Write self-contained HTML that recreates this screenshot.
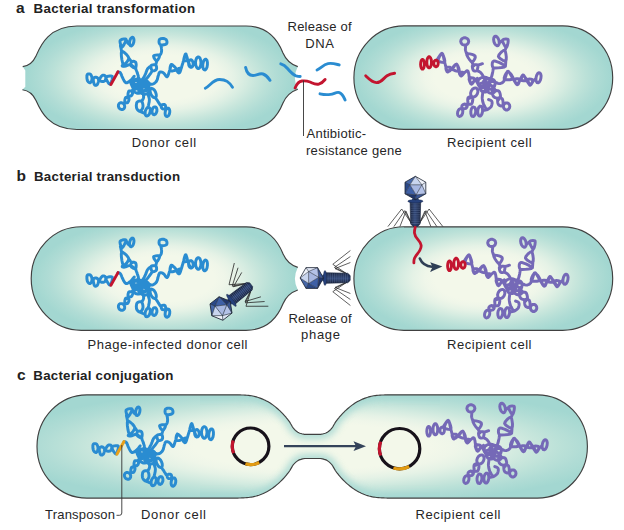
<!DOCTYPE html>
<html><head><meta charset="utf-8">
<style>
html,body{margin:0;padding:0;background:#fff;}
svg{display:block;position:absolute;top:0;left:0;}
text{font-family:"Liberation Sans",sans-serif;fill:#222;}
.t{font-weight:bold;font-size:13.3px;}
.tl{font-weight:bold;font-size:15.5px;}
.l{font-size:13px;fill:#262626;}
</style></head><body>
<svg width="624" height="530" viewBox="0 0 624 530">
<defs>
<radialGradient id="g0" gradientUnits="userSpaceOnUse" cx="0" cy="0" r="1"><stop offset="0" stop-color="#f3f8ea"/><stop offset="0.38" stop-color="#f3f8ea"/><stop offset="0.46" stop-color="#eff6e9"/><stop offset="0.55" stop-color="#e5f2e6"/><stop offset="0.64" stop-color="#d6ece1"/><stop offset="0.72" stop-color="#c8e6dc"/><stop offset="0.8" stop-color="#bbe1d8"/><stop offset="0.88" stop-color="#b0dcd5"/><stop offset="0.96" stop-color="#a7d9d2"/><stop offset="1.0" stop-color="#a3d7d1"/></radialGradient><radialGradient id="gA1" href="#g0" gradientTransform="translate(160 77.65) scale(134 60)"/><radialGradient id="gA2" href="#g0" gradientTransform="translate(483.3 77.65) scale(128 60)"/><radialGradient id="gB1" href="#g0" gradientTransform="translate(164.5 278.55) scale(131 60)"/><radialGradient id="gB2" href="#g0" gradientTransform="translate(483.3 278.55) scale(128 60)"/><radialGradient id="gC" href="#g0" gradientTransform="translate(312.6 446.45) scale(310 60)"/>
<filter id="bl2" filterUnits="userSpaceOnUse" x="200" y="380" width="240" height="140"><feGaussianBlur stdDeviation="3.5"/></filter>
<filter id="bl" filterUnits="userSpaceOnUse" x="-60" y="-60" width="760" height="660"><feGaussianBlur stdDeviation="15"/></filter>
<path id="cA1" d="M77 26L246 26C266 26 277 38 283 53C286 60 291 64.5 297.8 66.6Q292 78 297.8 89.2C291 91.5 286 96 283 103C277 118 266 129.5 246 129.5L77 129.5C48 129.5 40 109.5 36 100.5C33 94 28 90.5 22.4 89.8L25.3 86.7L25.3 70.4L22.7 66.6C28 66 33 62.5 36 56C40 47 48 26 77 26Z"/><path id="lA1" d="M22.7 66.6C28 66 33 62.5 36 56C40 47 48 26 77 26L246 26C266 26 277 38 283 53C286 60 291 64.5 297.8 66.6M297.8 89.2C291 91.5 286 96 283 103C277 118 266 129.5 246 129.5L77 129.5C48 129.5 40 109.5 36 100.5C33 94 28 90.5 22.4 89.8"/>
<path id="cA2" d="M403.9 25.9L562.7 25.9C590.3 25.9 612.7 49.07 612.7 77.65C612.7 106.23 590.3 129.4 562.7 129.4L403.9 129.4C376.3 129.4 353.9 106.23 353.9 77.65C353.9 49.07 376.3 25.9 403.9 25.9Z"/>
<path id="cB1" d="M81.2 226.8L246 226.8C266 226.8 277 238.8 283 253.8C286 260.8 291 265.3 297.8 267.4Q292 278.8 297.8 290C291 292.3 286 296.8 283 303.8C277 318.8 266 330.3 246 330.3L81.2 330.3C53.6 330.3 31.2 307.13 31.2 278.55C31.2 249.97 53.6 226.8 81.2 226.8Z"/><path id="lB1" d="M297.8 290C291 292.3 286 296.8 283 303.8C277 318.8 266 330.3 246 330.3L81.2 330.3C53.6 330.3 31.2 307.13 31.2 278.55C31.2 249.97 53.6 226.8 81.2 226.8L246 226.8C266 226.8 277 238.8 283 253.8C286 260.8 291 265.3 297.8 267.4"/>
<path id="cB2" d="M403.9 226.8L562.7 226.8C590.3 226.8 612.7 249.97 612.7 278.55C612.7 307.13 590.3 330.3 562.7 330.3L403.9 330.3C376.3 330.3 353.9 307.13 353.9 278.55C353.9 249.97 376.3 226.8 403.9 226.8Z"/>
<path id="cC" d="M87.0 394.8L238.0 394.8L238.9 394.9L240.2 394.9L241.7 395.0L243.4 395.0L245.1 395.1L246.9 395.3L248.5 395.4L250.0 395.6L251.4 395.8L252.7 396.0L253.9 396.3L255.2 396.6L256.4 396.9L257.6 397.3L258.9 397.7L260.1 398.1L261.4 398.6L262.6 399.1L263.9 399.7L265.2 400.3L266.4 400.9L267.7 401.6L268.9 402.3L270.2 403.1L271.5 404.0L272.8 404.9L274.1 405.9L275.4 406.9L276.7 408.0L277.9 409.0L279.1 410.1L280.3 411.2L281.4 412.3L282.5 413.4L283.6 414.6L284.7 415.8L285.7 416.9L286.6 418.1L287.5 419.2L288.4 420.3L289.2 421.4L289.9 422.4L290.5 423.5L291.1 424.5L291.7 425.5L292.2 426.5L292.8 427.4L293.4 428.2L294.0 428.9L294.6 429.6L295.3 430.2L295.9 430.8L296.5 431.3L297.2 431.8L297.8 432.2L298.5 432.6L299.2 433.0L300.1 433.3L300.9 433.5L301.8 433.8L302.6 434.0L303.4 434.1L304.0 434.3L304.5 434.4L320.7 434.4L321.2 434.3L321.8 434.1L322.6 434.0L323.4 433.8L324.3 433.5L325.1 433.3L326.0 433.0L326.7 432.6L327.4 432.2L328.0 431.8L328.7 431.3L329.3 430.8L329.9 430.2L330.6 429.6L331.2 428.9L331.8 428.2L332.4 427.4L333.0 426.5L333.5 425.5L334.1 424.5L334.7 423.5L335.3 422.4L336.0 421.4L336.8 420.3L337.7 419.2L338.6 418.1L339.5 416.9L340.5 415.8L341.6 414.6L342.7 413.4L343.8 412.3L344.9 411.2L346.1 410.1L347.3 409.0L348.5 408.0L349.8 406.9L351.1 405.9L352.4 404.9L353.7 404.0L355.0 403.1L356.3 402.3L357.5 401.6L358.8 400.9L360.1 400.3L361.3 399.7L362.6 399.1L363.8 398.6L365.1 398.1L366.3 397.7L367.6 397.3L368.8 396.9L370.0 396.6L371.3 396.3L372.5 396.0L373.8 395.8L375.2 395.6L376.7 395.4L378.3 395.3L380.1 395.1L381.8 395.0L383.5 395.0L385.0 394.9L386.3 394.9L387.2 394.8L537.4 394.8C565.0 394.8 587.4 417.9 587.4 446.45C587.4 475.0 565.0 498.1 537.4 498.1L387.2 498.1L386.3 498.0L385.0 498.0L383.5 497.9L381.8 497.9L380.1 497.8L378.3 497.6L376.7 497.5L375.2 497.3L373.8 497.1L372.5 496.9L371.3 496.6L370.0 496.3L368.8 496.0L367.6 495.6L366.3 495.2L365.1 494.8L363.8 494.3L362.6 493.8L361.3 493.2L360.1 492.6L358.8 492.0L357.5 491.3L356.3 490.6L355.0 489.8L353.7 488.9L352.4 488.0L351.1 487.0L349.8 486.0L348.5 484.9L347.3 483.9L346.1 482.8L344.9 481.7L343.8 480.6L342.7 479.5L341.6 478.3L340.5 477.1L339.5 476.0L338.6 474.8L337.7 473.7L336.8 472.6L336.0 471.5L335.3 470.5L334.7 469.4L334.1 468.4L333.5 467.4L333.0 466.4L332.4 465.5L331.8 464.7L331.2 464.0L330.6 463.3L329.9 462.7L329.3 462.1L328.7 461.6L328.0 461.1L327.4 460.7L326.7 460.3L326.0 459.9L325.1 459.6L324.3 459.4L323.4 459.1L322.6 458.9L321.8 458.8L321.2 458.6L320.7 458.5L304.5 458.5L304.0 458.6L303.4 458.8L302.6 458.9L301.8 459.1L300.9 459.4L300.1 459.6L299.2 459.9L298.5 460.3L297.8 460.7L297.2 461.1L296.5 461.6L295.9 462.1L295.3 462.7L294.6 463.3L294.0 464.0L293.4 464.7L292.8 465.5L292.2 466.4L291.7 467.4L291.1 468.4L290.5 469.4L289.9 470.5L289.2 471.5L288.4 472.6L287.5 473.7L286.6 474.8L285.7 476.0L284.7 477.1L283.6 478.3L282.5 479.5L281.4 480.6L280.3 481.7L279.1 482.8L277.9 483.9L276.7 484.9L275.4 486.0L274.1 487.0L272.8 488.0L271.5 488.9L270.2 489.8L268.9 490.6L267.7 491.3L266.4 492.0L265.2 492.6L263.9 493.2L262.6 493.8L261.4 494.3L260.1 494.8L258.9 495.2L257.6 495.6L256.4 496.0L255.2 496.3L253.9 496.6L252.7 496.9L251.4 497.1L250.0 497.3L248.5 497.5L246.9 497.6L245.1 497.8L243.4 497.9L241.7 497.9L240.2 498.0L238.9 498.0L238.0 498.1L87.0 498.1C59.4 498.1 37.0 475.0 37.0 446.45C37.0 417.9 59.4 394.8 87.0 394.8Z"/>
<linearGradient id="tg" x1="0" x2="1" y1="0" y2="0"><stop offset="0" stop-color="#131c33"/><stop offset="0.45" stop-color="#2c4273"/><stop offset="1" stop-color="#16203a"/></linearGradient><g id="phage"><path d="M4.2 35.0L13.7 21.0L27.5 38.6M4.2 35.0L10.6 22.6L21.5 38.6M4.2 35.0L9.4 23.2L15.5 38.6M-4.2 35.0L-13.7 21.0L-27.5 38.6M-4.2 35.0L-10.6 22.6L-21.5 38.6M-4.2 35.0L-9.4 23.2L-15.5 38.6" fill="none" stroke="#2b2b2b" stroke-width="0.75" stroke-linejoin="miter"/><path d="M-5.3 13.6L5.3 13.6L4.7 36L2.4 38.4L-2.4 38.4L-4.7 36Z" fill="url(#tg)"/><path d="M-5.2 15.2L5.2 15.2M-5.2 17.1L5.2 17.1M-5.2 18.9L5.2 18.9M-5.2 20.8L5.2 20.8M-5.2 22.6L5.2 22.6M-5.2 24.4L5.2 24.4M-5.2 26.3L5.2 26.3M-5.2 28.1L5.2 28.1M-5.2 30.0L5.2 30.0M-5.2 31.9L5.2 31.9M-5.2 33.7L5.2 33.7M-5.2 35.5L5.2 35.5" stroke="#7f94bd" stroke-width="0.55" opacity="0.6"/><path d="M-5.3 13.6L5.3 13.6L4.7 36L2.4 38.4L-2.4 38.4L-4.7 36Z" fill="none" stroke="#18233d" stroke-width="0.6"/><path d="M-3.2 10.5L3.2 10.5L3.6 13L-3.6 13Z" fill="#2c4a86"/><ellipse cx="0" cy="13.2" rx="7.6" ry="1.7" fill="#26417c" stroke="#18233d" stroke-width="0.4"/><polygon points="0,-11.7 -10.4,-5.8 -5.5,-3.2" fill="#4768aa"/><polygon points="0,-11.7 -5.5,-3.2 6.5,-3.2" fill="#c9d5ee"/><polygon points="0,-11.7 6.5,-3.2 10.4,-5.8" fill="#f0f3fa"/><polygon points="-10.4,-5.8 -10.4,5.8 -5.5,-3.2" fill="#2a4888"/><polygon points="-10.4,5.8 0.7,6.9 -5.5,-3.2" fill="#3f60a6"/><polygon points="-5.5,-3.2 6.5,-3.2 0.7,6.9" fill="#a7b7e1"/><polygon points="10.4,-5.8 10.4,5.8 6.5,-3.2" fill="#e0e7f5"/><polygon points="10.4,5.8 0.7,6.9 6.5,-3.2" fill="#b4c2e7"/><polygon points="-10.4,5.8 0,11.7 0.7,6.9" fill="#21366b"/><polygon points="0,11.7 10.4,5.8 0.7,6.9" fill="#3b5797"/><path d="M0 -11.7L-5.5 -3.2M0 -11.7L6.5 -3.2M-10.4 -5.8L-5.5 -3.2M-10.4 5.8L-5.5 -3.2M-10.4 5.8L0.7 6.9M0 11.7L0.7 6.9M10.4 5.8L0.7 6.9M10.4 5.8L6.5 -3.2M10.4 -5.8L6.5 -3.2M-5.5 -3.2L6.5 -3.2M6.5 -3.2L0.7 6.9M0.7 6.9L-5.5 -3.2" stroke="#1d2433" stroke-width="0.55" fill="none"/><polygon points="0,-11.7 10.4,-5.8 10.4,5.8 0,11.7 -10.4,5.8 -10.4,-5.8" fill="none" stroke="#1d2433" stroke-width="0.8" stroke-linejoin="round"/></g>
<clipPath id="kA1"><use href="#cA1"/></clipPath>
<clipPath id="kA2"><use href="#cA2"/></clipPath>
<clipPath id="kB1"><use href="#cB1"/></clipPath>
<clipPath id="kB2"><use href="#cB2"/></clipPath>
<clipPath id="kC"><use href="#cC"/></clipPath>
</defs>
<rect width="624" height="530" fill="#fff"/>

<!-- cells -->
<g id="cells">
<use href="#cA1" fill="url(#gA1)"/><use href="#lA1" fill="none" stroke="#404040" stroke-width="1.15"/>
<use href="#cA2" fill="url(#gA2)"/><use href="#cA2" fill="none" stroke="#404040" stroke-width="1.15"/>
<use href="#cB1" fill="url(#gB1)"/><use href="#lB1" fill="none" stroke="#404040" stroke-width="1.15"/>
<use href="#cB2" fill="url(#gB2)"/><use href="#cB2" fill="none" stroke="#404040" stroke-width="1.15"/>
<use href="#cC" fill="url(#gC)"/><g clip-path="url(#kC)"><use href="#cC" fill="none" stroke="#a3d7d1" stroke-width="9" filter="url(#bl2)" opacity="0.85"/></g><use href="#cC" fill="none" stroke="#404040" stroke-width="1.15"/>
</g>

<!-- chromosomes -->
<path id="dch" d="M87.2 74.7L86.9 75.5L86.9 76.7L86.9 78.1L87.1 79.4L87.4 80.5L87.8 81.2L88.3 81.9L89.0 82.5L89.6 82.8L90.1 82.8L90.6 82.4L91.1 81.7L91.5 80.8L91.9 79.8L92.0 78.9L92.0 77.9L91.8 76.9L91.4 75.8L91.0 74.9L90.5 74.3L89.9 74.0L89.2 73.9L88.4 73.9L87.6 74.2Z M93.3 78.9L93.3 79.9L93.4 81.3L93.8 82.8L94.1 84.0L94.6 84.9L95.0 85.3L95.6 85.4L96.2 85.3L96.8 84.9L97.3 84.5L97.7 83.8L98.1 82.7L98.4 81.6L98.6 80.5L98.6 79.6L98.3 78.9L97.8 78.2L97.2 77.7L96.6 77.3L96.0 77.1L95.4 77.1L94.8 77.3L94.1 77.6L93.6 78.2Z M99.6 79.6L99.8 78.8L100.3 77.9L101.0 76.8L101.7 76.0L102.4 75.4L103.0 75.2L103.8 75.2L104.5 75.4L105.1 75.8L105.5 76.2L105.7 76.9L105.8 77.8L105.7 78.8L105.4 79.8L105.1 80.5L104.6 80.9L104.0 81.3L103.3 81.5L102.6 81.5L102.0 81.5L101.4 81.4L100.7 81.1L100.2 80.7L99.8 80.2Z M106.0 77.5L106.1 78.7L106.9 80.5L108.0 82.3L109.1 83.8L110.0 84.3L110.7 83.5L111.4 81.8L112.1 79.6L112.4 77.7L112.3 76.4L111.4 76.0L109.9 76.0L108.2 76.2L106.7 76.8Z M118.0 72.0L118.3 72.1L118.8 72.1L119.3 72.1L119.9 72.4L120.4 72.9L120.9 73.7L121.4 74.8L121.8 76.0L122.3 77.2L122.9 78.4L123.4 79.4L124.0 80.5L124.6 81.5L125.3 82.3L126.0 82.8L126.8 82.8L127.7 82.4L128.7 81.9L129.6 81.2L130.5 80.5L131.3 79.7L132.2 78.7L133.0 77.7L133.7 76.8L134.2 76.2 M121.6 51.4L122.7 51.5L124.4 52.6L126.4 54.3L128.0 56.3L128.8 57.9L128.4 59.5L127.3 61.4L125.8 63.2L124.3 64.4L123.3 64.4L122.6 62.8L121.9 59.7L121.4 56.2L121.3 53.1Z M123.3 64.4L123.1 64.6L122.8 64.9L122.4 65.3L122.2 65.6L122.2 65.9L122.4 66.1L122.8 66.2L123.3 66.3L123.9 66.4L124.7 66.3L125.6 66.1L126.8 65.6L128.0 65.1L129.3 64.8L130.5 64.8L131.6 65.3L132.9 66.2L134.0 67.3L135.0 68.2L135.7 68.8 M128.8 57.9L129.2 58.5L129.9 59.5L130.6 60.5L131.3 61.4L131.7 62.1 M131.7 61.7L132.4 61.4L133.3 61.3L134.3 61.5L135.2 61.8L135.7 62.3L136.0 63.2L136.2 64.6L136.1 66.1L135.9 67.3L135.5 68.0L134.8 68.1L133.8 67.7L132.7 67.1L131.7 66.4L131.1 65.7L130.8 64.9L130.8 64.0L131.0 63.0L131.3 62.2Z M135.5 68.0L135.8 68.7L136.1 69.7L136.5 70.8L137.0 72.0L137.3 73.1L137.7 74.2L138.1 75.4L138.4 76.6L138.7 77.6L138.9 78.4 M121.6 51.4L121.4 50.6L121.2 49.3L120.9 47.9L120.6 46.7L120.4 45.8 M120.1 40.5L120.9 39.8L122.4 39.2L124.0 38.9L125.3 38.9L126.0 39.3L125.9 40.5L125.1 42.4L124.1 44.4L123.0 46.1L122.2 46.9L121.6 46.4L120.9 45.1L120.3 43.4L120.0 41.7Z M126.0 39.5L126.3 40.0L126.6 40.7L127.0 41.6L127.4 42.3L127.8 43.0L128.2 43.4L128.6 43.8L129.0 44.1L129.4 44.4L129.6 44.6 M133.8 42.0L133.2 43.9L132.3 45.3L131.3 45.9L130.4 45.7L129.7 44.7L129.5 43.1L129.7 41.2L130.3 39.3L131.2 37.9L132.2 37.3L133.1 37.5L133.7 38.5L134.0 40.1Z M159.5 39.5L160.0 39.1L160.6 38.8L161.4 38.6L162.2 38.4L162.9 38.4L163.6 38.5L164.4 38.7L165.1 39.0L165.8 39.3L166.3 39.8L166.6 40.5L166.9 41.3L167.0 42.2L166.9 43.1L166.6 43.7L165.9 44.2L164.9 44.6L163.8 44.8L162.7 45.0L161.8 45.0L161.1 44.9L160.5 44.6L160.0 44.3L159.6 43.8L159.3 43.3L159.1 42.6L159.0 41.8L159.1 40.9L159.2 40.1Z M160.8 45.0L160.9 45.7L161.1 46.6L161.4 47.7L161.5 48.9L161.6 49.8L161.6 50.7L161.5 51.5L161.4 52.2L161.2 52.9L161.0 53.5L160.7 54.0L160.4 54.5L160.0 54.8L159.7 55.1L159.5 55.3 M153.6 56.0L154.3 55.5L155.7 55.1L157.3 54.9L158.7 55.0L159.5 55.3L159.5 56.2L159.1 57.6L158.3 59.1L157.5 60.3L156.8 60.8L156.0 60.4L155.1 59.4L154.2 58.1L153.7 56.8Z M156.8 60.8L156.6 61.5L156.4 62.4L156.1 63.5L155.9 64.5L155.7 65.2 M151.1 65.7L151.7 65.2L152.7 64.9L153.9 64.8L154.9 64.9L155.7 65.2L156.2 65.7L156.5 66.6L156.6 67.7L156.6 68.6L156.3 69.4L155.8 69.9L154.9 70.4L154.0 70.8L153.0 70.9L152.3 70.7L151.8 70.1L151.3 69.0L151.0 67.7L150.9 66.5Z M151.1 65.7L150.6 66.1L149.9 66.6L149.1 67.2L148.3 68.0L147.6 68.8L147.0 69.9L146.5 71.2L146.0 72.6L145.5 73.9L144.9 75.2L144.3 76.4L143.6 77.6L142.8 78.8L142.2 79.8L141.8 80.5 M152.3 70.7L152.0 71.3L151.5 72.0L151.0 72.8L150.3 73.8L149.7 74.7L149.0 75.6L148.3 76.5L147.5 77.5L146.7 78.5L146.0 79.4L145.3 80.3L144.5 81.1L143.8 81.9L143.3 82.6L142.8 83.1 M143.9 83.6L145.1 83.8L146.9 84.0L148.9 84.2L150.8 84.3L152.3 84.2L153.5 83.8L154.5 83.2L155.3 82.5L156.0 81.8L156.6 81.0L157.0 80.1L157.4 79.2L157.6 78.2L157.9 77.2L158.1 76.2L158.4 75.3L158.7 74.4L158.9 73.5L159.3 72.7L159.7 72.2L160.3 72.0L161.1 72.0L161.8 72.1L162.7 72.4L163.4 72.9L164.2 73.6L165.0 74.7L165.7 75.8L166.4 76.6L167.1 76.8L167.7 76.1L168.3 74.7L168.8 73.1L169.3 71.4L169.8 69.9L170.2 68.6L170.5 67.3L170.9 66.1L171.1 65.1L171.3 64.4 M171.3 64.4L172.2 64.7L173.5 65.8L174.9 67.1L175.9 68.4L176.2 69.4L175.6 70.0L174.3 70.5L172.7 70.9L171.2 70.9L170.3 70.6L170.0 69.7L170.0 68.2L170.3 66.5L170.8 65.1Z M176.2 69.4L176.6 70.1L177.2 71.2L177.9 72.3L178.7 73.0L179.4 72.9L180.1 71.6L180.8 69.6L181.6 67.2L182.3 64.7L183.0 62.5L183.6 60.4L184.1 58.2L184.6 56.2L185.1 54.6L185.6 53.9L186.0 54.1L186.4 55.2L186.7 56.7L187.1 58.3L187.4 59.6L187.7 60.4L188.0 61.1L188.2 61.8L188.5 62.4L188.8 63.0L189.1 63.7L189.4 64.5L189.7 65.2L190.0 65.8L190.1 66.2 M185.6 54.3L186.0 54.7L186.6 55.9L187.1 57.4L187.4 58.9L187.4 59.9L186.9 60.4L186.1 60.8L185.1 60.9L184.3 60.8L183.8 60.4L183.8 59.4L184.1 57.9L184.6 56.2L185.2 54.9Z M177.9 69.1L178.3 68.7L178.9 68.4L179.7 68.2L180.5 68.2L180.8 68.4L180.9 69.1L180.7 70.1L180.3 71.3L179.9 72.2L179.6 72.6L179.2 72.4L178.7 71.6L178.3 70.7L177.9 69.7Z M193.2 63.4L193.1 65.0L192.6 66.4L191.7 67.2L190.7 67.3L189.7 66.7L188.9 65.4L188.6 63.8L188.6 62.1L189.2 60.7L190.0 59.9L191.1 59.8L192.1 60.5L192.8 61.7Z M201.0 62.7L200.7 65.3L200.0 67.3L198.9 68.5L197.7 68.5L196.6 67.3L195.8 65.3L195.5 62.7L195.8 60.2L196.6 58.1L197.7 57.0L198.9 57.0L200.0 58.1L200.7 60.2Z M207.4 64.8L207.0 67.2L206.2 69.0L205.2 70.0L204.2 69.9L203.3 68.8L202.8 66.8L202.8 64.4L203.3 62.1L204.1 60.2L205.1 59.2L206.1 59.3L207.0 60.5L207.4 62.4Z M133.6 87.9L133.4 88.4L133.0 89.2L132.6 89.9L132.3 90.7L132.1 91.2 M128.8 91.2L129.5 90.9L130.4 90.9L131.4 91.1L132.2 91.4L132.7 91.8L132.8 92.4L132.6 93.3L132.3 94.2L131.9 95.1L131.4 95.6L130.8 96.0L130.1 96.1L129.3 96.1L128.6 96.0L128.2 95.6L128.0 94.9L128.0 93.9L128.2 92.8L128.5 91.8Z M128.5 95.6L128.3 95.9L128.0 96.4L127.7 96.8L127.4 97.3L127.2 97.6 M125.6 97.6L126.2 97.3L127.0 97.4L127.9 97.6L128.6 98.0L129.0 98.5L129.0 99.2L128.9 100.1L128.5 101.1L128.1 102.0L127.7 102.6L127.2 102.8L126.5 102.9L125.8 102.8L125.2 102.5L124.9 102.1L124.8 101.3L124.8 100.3L125.0 99.2L125.3 98.2Z M125.6 102.3L125.5 102.5L125.3 102.8L125.0 103.1L124.8 103.4L124.6 103.6 M124.2 104.6L124.7 106.1L124.6 107.6L123.9 108.8L122.7 109.5L121.3 109.5L119.9 108.9L118.9 107.7L118.4 106.2L118.5 104.7L119.2 103.5L120.4 102.8L121.8 102.8L123.2 103.4Z M142.9 92.4L143.1 93.2L143.3 94.2L143.5 95.4L143.6 96.5L143.6 97.6L143.3 98.5L142.9 99.4L142.4 100.2L142.0 100.9L141.7 101.4 M137.2 102.1L137.9 101.5L138.9 101.1L139.9 101.0L140.9 101.0L141.7 101.4L142.2 102.2L142.6 103.3L142.9 104.7L143.0 106.0L142.9 107.2L142.6 108.2L142.0 109.3L141.2 110.3L140.5 111.0L139.7 111.3L139.0 111.1L138.3 110.6L137.5 109.7L136.9 108.8L136.5 107.8L136.4 106.7L136.3 105.4L136.5 104.1L136.7 102.9Z M139.7 111.3L140.5 111.6L141.7 112.1L142.9 112.7L144.1 113.2L144.9 113.6 M150.0 112.3L149.3 114.1L148.3 115.4L147.1 116.0L146.0 115.8L145.3 114.7L145.1 113.0L145.3 111.0L146.1 109.2L147.1 107.9L148.3 107.3L149.3 107.6L150.1 108.7L150.3 110.4Z M156.9 111.2L156.3 112.8L155.4 114.1L154.3 114.7L153.3 114.5L152.5 113.6L152.0 112.1L152.1 110.3L152.6 108.7L153.5 107.4L154.6 106.9L155.7 107.0L156.5 108.0L156.9 109.5Z M147.7 93.7L148.0 94.5L148.4 95.6L148.8 96.9L149.2 98.2L149.4 99.5L149.3 100.7L149.2 102.0L148.9 103.2L148.7 104.3L148.5 105.3L148.3 106.0L148.1 106.5L147.9 106.9L147.8 107.2L147.7 107.4 M155.5 92.0L156.2 94.1L156.3 96.0L155.8 97.4L154.8 97.8L153.5 97.4L152.1 96.1L150.9 94.2L150.2 92.0L150.1 90.1L150.6 88.8L151.6 88.3L153.0 88.8L154.4 90.1Z M155.4 97.6L155.8 98.2L156.4 99.1L157.1 100.1L157.8 101.2L158.3 102.1L158.8 102.8L159.3 103.6L159.7 104.3L160.0 104.8L160.3 105.3 M161.3 105.3L161.7 104.9L162.5 104.6L163.3 104.4L164.1 104.4L164.7 104.6L165.2 105.1L165.5 105.9L165.7 106.8L165.8 107.6L165.6 108.2L165.2 108.6L164.4 108.8L163.6 108.9L162.8 108.9L162.2 108.7L161.8 108.2L161.4 107.5L161.2 106.6L161.1 105.8Z M169.7 112.7L169.2 114.5L168.3 115.8L167.2 116.5L166.2 116.3L165.4 115.3L165.1 113.8L165.2 111.9L165.7 110.1L166.6 108.8L167.6 108.2L168.7 108.3L169.4 109.3L169.8 110.9Z M132.1 81.5L132.7 80.9L133.7 80.2L134.9 79.6L136.1 79.2L137.2 79.0L138.3 79.0L139.5 79.3L140.7 79.7L141.7 80.3L142.3 80.9L142.5 81.7L142.4 82.6L142.1 83.7L141.6 84.6L141.0 85.4L140.2 86.0L139.2 86.5L138.0 86.9L136.9 87.2L135.9 87.3L135.1 87.2L134.4 86.9L133.7 86.5L133.1 86.0L132.7 85.4L132.3 84.7L132.0 83.9L131.8 83.1L131.8 82.3Z M138.5 82.8L139.1 82.1L140.1 81.4L141.3 80.8L142.5 80.4L143.6 80.3L144.7 80.4L145.9 80.7L147.1 81.3L148.1 82.0L148.7 82.8L149.0 83.9L149.1 85.3L148.9 86.8L148.6 88.2L148.1 89.2L147.3 90.0L146.3 90.6L145.1 91.0L144.0 91.2L142.9 91.2L142.0 90.9L141.2 90.3L140.3 89.6L139.6 88.8L139.1 87.9L138.7 87.0L138.3 85.9L138.1 84.8L138.2 83.7Z M133.3 85.4L134.0 84.7L135.0 84.3L136.2 84.0L137.4 83.9L138.5 84.1L139.4 84.5L140.4 85.2L141.3 86.1L142.0 87.0L142.3 87.9L142.2 89.0L141.9 90.2L141.3 91.4L140.5 92.4L139.7 93.1L138.8 93.3L137.7 93.3L136.5 93.0L135.4 92.5L134.6 91.8L134.0 90.8L133.5 89.4L133.2 87.8L133.1 86.4Z M130.8 82.8L131.2 83.9L131.8 85.4L132.6 87.1L133.5 88.5L134.6 89.2L135.9 89.0L137.5 87.9L139.1 86.7L140.8 85.7L142.3 85.4L143.9 86.1L145.5 87.4L147.0 89.0L148.2 90.6L148.7 91.8L148.4 92.7L147.5 93.5L146.2 94.1L144.8 94.4L143.6 94.4L142.4 93.8L141.0 92.9L139.7 91.7L138.7 90.5L138.5 89.2L139.0 87.9L140.2 86.4L141.8 84.9L143.4 83.6L144.9 82.8L146.3 82.6L147.7 82.8L149.2 83.3L150.4 83.8L151.3 84.1 M134.6 80.3L135.5 80.2L136.7 80.5L137.9 80.9L139.1 81.5L139.7 82.2L139.9 83.0L139.8 84.1L139.5 85.3L139.0 86.2L138.5 86.7L137.7 86.6L136.7 86.2L135.6 85.6L134.6 84.8L134.0 84.1L133.7 83.3L133.6 82.4L133.8 81.4L134.1 80.7Z M141.0 84.1L141.9 83.9L143.1 84.0L144.3 84.3L145.5 84.8L146.2 85.4L146.4 86.3L146.3 87.5L145.9 88.7L145.4 89.8L144.9 90.5L144.1 90.7L143.1 90.6L142.0 90.3L141.0 89.8L140.4 89.2L140.1 88.3L140.1 87.1L140.2 85.9L140.5 84.8Z" fill="none" stroke="#2a8cd1" stroke-width="2.95" stroke-linejoin="round" stroke-linecap="round"/>
<path d="M110.9 84.5L118.0 71.8" stroke="#c3152f" stroke-width="2.9" stroke-linecap="round" fill="none"/>
<path id="rch" d="M437.0 60.0L437.7 58.9L438.8 57.1L440.0 55.2L441.1 53.8L442.0 53.3L442.7 54.0L443.2 55.4L443.6 57.4L444.0 59.5L444.5 61.5L445.0 63.5L445.6 65.9L446.1 68.1L446.7 70.0L447.4 71.2L448.3 71.6L449.2 71.2L450.2 70.5L451.2 69.6L452.1 68.8L453.1 67.8L454.1 66.5L455.0 65.2L455.9 64.3L456.6 64.1L457.2 64.7L457.7 66.1L458.1 67.8L458.5 69.6L458.9 71.0L459.3 72.2L459.6 73.4L460.0 74.5L460.4 75.3L460.9 75.7L461.5 75.6L462.2 75.0L463.0 74.2L463.8 73.3L464.5 72.7L465.2 72.1L465.9 71.5L466.6 70.9L467.3 70.7L467.8 71.0L468.3 72.0L468.7 73.6L469.0 75.5L469.2 77.3L469.5 78.9L469.8 80.2L470.0 81.5L470.3 82.6L470.6 83.5L471.0 83.9L471.6 83.8L472.3 83.1L473.1 82.2L473.9 81.3L474.6 80.6L475.2 80.0L475.9 79.5L476.5 79.0L477.0 78.6L477.4 78.3 M442.0 53.6L442.8 54.5L443.6 56.4L444.4 58.7L444.8 60.8L444.7 62.0L443.9 62.5L442.3 62.4L440.5 62.0L439.0 61.3L438.2 60.5L438.4 59.2L439.1 57.4L440.1 55.5L441.2 54.1Z M446.0 67.7L446.6 67.3L447.7 67.1L448.9 67.1L449.9 67.3L450.5 67.7L450.3 68.4L449.8 69.6L449.0 70.8L448.3 71.7L447.7 72.1L447.1 71.7L446.6 70.8L446.1 69.6L445.9 68.4Z M456.6 64.3L457.4 65.1L458.2 66.7L458.9 68.6L459.2 70.3L459.1 71.2L458.2 71.4L456.5 71.1L454.7 70.5L453.2 69.8L452.4 69.0L452.5 68.0L453.4 66.7L454.5 65.5L455.7 64.5Z M459.4 72.7L460.1 72.4L461.1 72.3L462.4 72.3L463.4 72.4L463.9 72.7L463.8 73.3L463.3 74.1L462.5 75.0L461.7 75.8L461.1 76.1L460.6 75.8L460.1 75.0L459.6 74.1L459.4 73.3Z M469.2 78.3L469.9 77.9L471.2 77.8L472.7 78.0L473.9 78.3L474.6 78.9L474.5 79.8L473.9 81.2L473.0 82.7L472.1 83.8L471.4 84.3L470.8 83.7L470.1 82.4L469.5 80.8L469.1 79.3Z M468.7 41.4L468.3 43.0L467.2 44.3L465.6 45.0L463.8 45.0L462.2 44.3L461.1 43.0L460.7 41.4L461.1 39.8L462.2 38.5L463.8 37.8L465.6 37.8L467.2 38.5L468.3 39.8Z M465.8 45.2L465.7 45.8L465.6 46.7L465.5 47.7L465.4 48.8L465.4 49.7L465.6 50.6L465.9 51.6L466.2 52.6L466.5 53.4L466.7 54.0 M466.7 54.0L467.7 53.7L469.7 53.9L472.0 54.4L474.0 55.2L475.1 56.0L475.3 57.2L474.8 58.8L473.9 60.4L472.8 61.7L471.9 62.0L470.8 61.2L469.3 59.3L467.9 57.2L466.9 55.2Z M471.9 62.0L472.1 62.6L472.5 63.5L472.9 64.5L473.2 65.4L473.5 66.0 M472.6 65.4L473.3 65.0L474.5 64.7L475.8 64.6L477.0 64.8L477.7 65.2L478.0 66.0L477.9 67.2L477.6 68.5L477.3 69.7L476.8 70.5L476.3 70.9L475.5 71.1L474.7 71.1L474.0 70.9L473.5 70.5L473.0 69.7L472.6 68.6L472.4 67.3L472.3 66.2Z M477.7 65.2L478.4 65.0L479.5 64.6L480.7 64.3L481.7 63.9L482.4 63.7 M476.8 70.5L477.4 70.8L478.3 71.1L479.3 71.6L480.3 72.3L481.3 73.3L482.3 74.6L483.3 76.4L484.3 78.3L485.2 80.0L485.8 81.1 M498.9 40.3L499.2 42.4L499.0 44.3L498.2 45.5L497.1 45.8L495.9 45.1L494.7 43.6L493.9 41.6L493.6 39.5L493.9 37.6L494.6 36.5L495.7 36.2L497.0 36.8L498.1 38.3Z M499.3 43.0L499.8 42.6L500.5 42.0L501.2 41.4L501.9 40.8L502.4 40.4 M502.5 40.3L503.1 39.6L504.4 39.1L505.9 39.0L507.3 39.1L508.1 39.6L508.2 40.9L508.0 42.9L507.5 45.0L506.9 46.7L506.3 47.5L505.5 46.9L504.5 45.4L503.4 43.4L502.7 41.5Z M506.3 47.5L506.0 48.0L505.7 48.7L505.3 49.6L505.0 50.3L504.7 50.8 M504.7 50.3L505.4 51.6L505.9 54.0L506.3 56.9L506.2 59.5L505.8 60.9L504.7 61.0L502.8 60.3L500.8 59.1L499.2 57.7L498.4 56.4L498.9 55.0L500.2 53.3L501.9 51.6L503.6 50.4Z M505.8 60.9L505.8 61.7L505.7 62.9L505.6 64.3L505.5 65.5L505.4 66.3 M493.9 60.9L495.9 61.3L498.9 62.4L502.0 63.9L504.4 65.3L505.4 66.3L504.3 67.0L501.7 67.5L498.4 67.9L495.4 68.0L493.4 67.7L492.5 66.6L492.2 65.0L492.3 63.1L492.9 61.6Z M493.4 67.7L493.2 68.8L493.0 70.3L492.7 72.1L492.3 74.0L491.9 75.5L491.5 76.9L490.9 78.2L490.3 79.4L489.8 80.4L489.5 81.1 M490.6 78.9L491.6 79.6L493.1 80.6L494.8 81.8L496.4 82.7L497.9 83.4L499.1 83.6L500.2 83.5L501.2 83.2L502.1 82.8L502.9 82.2L503.6 81.5L504.1 80.5L504.5 79.5L504.9 78.3L505.4 77.2L505.9 75.8L506.3 74.3L506.8 72.7L507.3 71.6L508.0 71.2L508.8 71.8L509.8 73.2L510.8 74.9L511.8 76.7L512.8 78.3L513.7 79.8L514.7 81.5L515.6 83.0L516.5 84.2L517.3 84.7L518.0 84.4L518.6 83.4L519.2 82.0L519.7 80.6L520.3 79.4L520.9 78.3L521.4 77.1L522.0 76.0L522.5 75.2L523.1 74.9L523.7 75.3L524.4 76.3L525.1 77.5L525.8 78.8L526.5 80.0L527.2 81.2L527.9 82.5L528.7 83.7L529.4 84.7L530.1 85.2L530.7 84.9L531.4 84.1L532.0 83.1L532.6 82.0L533.2 81.1L533.8 80.4L534.5 79.8L535.1 79.2L535.6 78.7L536.0 78.3 M508.0 71.6L509.1 72.2L510.6 73.7L511.9 75.6L512.9 77.4L513.0 78.6L512.0 79.3L509.9 79.7L507.5 79.8L505.4 79.6L504.3 79.1L504.2 77.9L504.8 76.0L505.8 73.9L506.9 72.3Z M514.7 79.4L515.3 79.0L516.5 78.8L517.8 78.8L518.9 79.0L519.5 79.4L519.5 80.3L519.1 81.7L518.4 83.1L517.7 84.2L517.1 84.7L516.5 84.2L515.8 83.1L515.1 81.7L514.7 80.3Z M523.1 75.3L523.8 75.7L524.7 76.8L525.7 78.1L526.3 79.4L526.5 80.2L525.9 80.6L524.7 80.8L523.4 80.8L522.1 80.6L521.4 80.2L521.3 79.4L521.5 78.1L522.0 76.8L522.6 75.7Z M527.8 79.4L528.4 79.1L529.6 79.0L530.9 79.1L532.0 79.5L532.7 80.0L532.6 80.9L532.2 82.2L531.6 83.7L530.9 84.7L530.3 85.2L529.7 84.6L529.0 83.3L528.3 81.8L527.9 80.3Z M540.9 78.2L540.3 80.3L539.3 82.0L538.2 82.8L537.1 82.6L536.3 81.5L535.9 79.6L536.1 77.3L536.7 75.2L537.7 73.5L538.8 72.7L539.9 72.9L540.7 74.0L541.1 75.9Z M477.3 93.9L476.1 95.7L474.5 96.8L472.9 97.1L471.6 96.5L470.8 95.1L470.6 93.2L471.2 91.1L472.4 89.3L474.0 88.2L475.6 87.9L476.9 88.5L477.7 89.9L477.9 91.9Z M471.6 97.0L471.3 97.2L470.8 97.5L470.4 97.8L469.9 98.1L469.6 98.3 M468.1 97.6L468.8 97.1L469.7 96.8L470.8 96.8L471.8 96.9L472.5 97.4L472.7 98.3L472.8 99.6L472.6 101.1L472.3 102.5L471.9 103.4L471.4 104.0L470.6 104.3L469.7 104.4L468.9 104.2L468.4 103.8L468.0 102.9L467.8 101.5L467.7 100.0L467.8 98.6Z M468.4 103.8L468.0 104.0L467.4 104.3L466.8 104.6L466.2 104.9L465.8 105.1 M467.2 105.4L467.2 106.4L466.8 107.5L465.9 108.3L464.7 108.7L463.5 108.7L462.5 108.2L461.9 107.3L461.8 106.3L462.2 105.3L463.2 104.5L464.3 104.0L465.5 104.1L466.6 104.5Z M462.6 113.2L461.9 114.8L460.9 116.0L459.7 116.5L458.6 116.2L457.8 115.2L457.5 113.6L457.7 111.8L458.4 110.2L459.4 109.0L460.6 108.5L461.7 108.8L462.5 109.8L462.8 111.4Z M483.1 91.2L482.9 92.1L482.7 93.3L482.5 94.8L482.3 96.3L482.2 97.6L482.3 98.9L482.5 100.2L482.7 101.5L483.1 102.8L483.5 104.1L484.1 105.3L484.9 106.7L485.7 108.0L486.4 109.0L486.9 109.8 M486.9 109.8L487.6 109.4L488.5 108.9L489.5 108.2L490.5 107.4L491.2 106.6L491.6 105.7L491.9 104.5L492.1 103.4L492.1 102.3L491.9 101.5L491.5 100.9L490.8 100.4L489.9 100.0L489.1 99.8L488.6 99.6 M486.9 109.8L486.4 109.9L485.5 110.1L484.5 110.2L483.7 110.4L483.1 110.5 M482.6 111.3L482.1 113.5L481.3 115.2L480.3 116.1L479.2 116.0L478.3 115.0L477.8 113.1L477.7 110.9L478.2 108.7L479.0 107.0L480.0 106.1L481.1 106.2L482.0 107.2L482.5 109.1Z M475.7 112.0L475.2 114.0L474.4 115.7L473.4 116.5L472.3 116.4L471.4 115.4L470.9 113.7L470.8 111.5L471.2 109.4L472.0 107.8L473.1 107.0L474.2 107.1L475.1 108.1L475.6 109.8Z M493.4 86.1L493.2 86.9L493.0 88.0L492.8 89.3L492.6 90.5L492.5 91.2 M492.5 91.2L493.3 90.8L494.7 90.5L496.3 90.5L497.8 90.7L498.9 91.2L499.6 92.2L500.1 93.7L500.4 95.3L500.5 96.7L500.2 97.6L499.3 98.0L498.0 98.1L496.5 98.0L495.1 97.6L494.0 97.0L493.3 96.1L492.7 94.8L492.3 93.4L492.2 92.1Z M499.4 97.6L499.3 97.9L499.2 98.4L499.1 98.8L498.9 99.3L498.9 99.6 M497.8 98.3L498.5 97.9L499.5 97.7L500.6 97.9L501.6 98.3L502.3 98.9L502.7 100.0L503.0 101.5L503.1 103.2L503.0 104.6L502.7 105.6L502.1 106.0L501.2 106.0L500.1 105.8L499.2 105.3L498.5 104.7L498.0 103.7L497.7 102.2L497.6 100.6L497.6 99.2Z M509.8 106.4L509.5 107.9L508.6 109.2L507.3 109.9L505.9 109.9L504.6 109.2L503.7 107.9L503.4 106.4L503.7 104.8L504.6 103.6L505.9 102.9L507.3 102.9L508.6 103.6L509.5 104.8Z M478.6 79.7L479.3 79.0L480.3 78.3L481.4 77.7L482.6 77.3L483.7 77.1L484.9 77.2L486.1 77.4L487.3 77.8L488.3 78.4L488.9 79.1L489.1 79.9L489.0 81.0L488.7 82.2L488.2 83.3L487.6 84.2L486.8 84.8L485.8 85.4L484.6 85.8L483.5 86.0L482.5 86.1L481.5 86.0L480.6 85.7L479.8 85.3L479.1 84.8L478.6 84.2L478.3 83.4L478.1 82.5L478.1 81.5L478.2 80.5Z M483.7 81.0L484.4 80.2L485.3 79.5L486.5 78.9L487.7 78.6L488.9 78.4L490.1 78.5L491.4 78.9L492.8 79.4L493.9 80.1L494.6 81.0L495.0 82.1L495.1 83.5L494.9 85.0L494.5 86.3L494.0 87.4L493.3 88.1L492.2 88.7L491.1 89.1L489.9 89.3L488.9 89.3L487.9 89.0L486.8 88.5L485.9 87.8L485.0 86.9L484.4 86.1L483.9 85.2L483.6 84.1L483.4 82.9L483.4 81.9Z M479.9 84.2L480.5 83.5L481.5 83.1L482.8 82.8L484.0 82.7L485.0 82.9L486.0 83.3L487.0 84.0L487.9 84.9L488.5 85.8L488.9 86.7L488.8 87.8L488.4 89.0L487.8 90.2L487.1 91.2L486.3 91.9L485.4 92.1L484.3 92.1L483.1 91.8L482.0 91.3L481.2 90.6L480.6 89.6L480.1 88.1L479.8 86.6L479.7 85.2Z M476.7 81.6L477.3 82.7L478.0 84.2L478.9 85.9L480.0 87.3L481.2 88.0L482.5 87.7L484.1 86.7L485.7 85.5L487.4 84.5L488.9 84.2L490.4 84.9L492.1 86.2L493.6 87.8L494.8 89.4L495.3 90.6L495.0 91.5L494.1 92.3L492.8 92.9L491.4 93.2L490.2 93.2L488.9 92.6L487.5 91.7L486.2 90.5L485.3 89.3L485.0 88.0L485.6 86.7L486.8 85.2L488.4 83.7L490.1 82.4L491.4 81.6L492.6 81.4L493.8 81.6L494.9 82.1L495.9 82.6L496.6 82.9" fill="none" stroke="#7569b7" stroke-width="2.95" stroke-linejoin="round" stroke-linecap="round"/>
<path id="rred" d="M424.4 64.3L424.2 66.4L423.7 68.1L422.9 69.1L422.1 69.1L421.3 68.1L420.8 66.4L420.6 64.3L420.8 62.1L421.3 60.4L422.1 59.5L422.9 59.5L423.7 60.4L424.2 62.1Z M431.5 62.3L431.3 64.7L430.6 66.7L429.7 67.7L428.6 67.7L427.7 66.7L427.0 64.7L426.8 62.3L427.0 59.8L427.7 57.9L428.6 56.8L429.7 56.8L430.6 57.9L431.3 59.8Z M438.2 63.4L438.0 64.9L437.4 66.0L436.5 66.7L435.5 66.7L434.6 66.0L434.0 64.9L433.7 63.4L434.0 61.9L434.6 60.8L435.5 60.1L436.5 60.1L437.4 60.8L438.0 61.9Z" fill="none" stroke="#c3152f" stroke-width="2.9" stroke-linejoin="round"/>

<use href="#dch" transform="translate(0 200.8)"/>
<path d="M110.9 285.3L118.0 272.6" stroke="#c3152f" stroke-width="2.9" stroke-linecap="round" fill="none"/>
<use href="#rch" transform="translate(27 201.5)"/>
<use href="#rred" transform="translate(27 201.5)"/>

<use href="#dch" transform="translate(6 369.7)"/>
<path d="M116.9 454.2L124.0 441.5" stroke="#e9a019" stroke-width="2.9" stroke-linecap="round" fill="none"/>
<use href="#rch" transform="translate(6.2 367)"/>
<path d="M424.4 64.3L424.2 66.4L423.7 68.1L422.9 69.1L422.1 69.1L421.3 68.1L420.8 66.4L420.6 64.3L420.8 62.1L421.3 60.4L422.1 59.5L422.9 59.5L423.7 60.4L424.2 62.1Z M431.5 62.3L431.3 64.7L430.6 66.7L429.7 67.7L428.6 67.7L427.7 66.7L427.0 64.7L426.8 62.3L427.0 59.8L427.7 57.9L428.6 56.8L429.7 56.8L430.6 57.9L431.3 59.8Z M438.2 63.4L438.0 64.9L437.4 66.0L436.5 66.7L435.5 66.7L434.6 66.0L434.0 64.9L433.7 63.4L434.0 61.9L434.6 60.8L435.5 60.1L436.5 60.1L437.4 60.8L438.0 61.9Z" transform="translate(6.2 367)" fill="none" stroke="#7569b7" stroke-width="2.95" stroke-linejoin="round"/>


<!-- DNA fragments panel a -->
<g fill="none" stroke-linecap="round" stroke-width="2.9">
<path d="M205.3 88.2C210 86 213 79.5 219.5 79.5C226 79.5 229 82 232.5 87.2" stroke="#2a8cd1"/>
<path d="M245.6 67.4C246.5 72 248.5 75.5 253 75.5C257 75.5 259 73 263 74C266.5 75 268 77.5 270 80.3" stroke="#2a8cd1"/>
<path d="M280.8 63.8C283.5 64.5 285.5 66 287.5 68.5C290 71.5 292.5 74.5 296 75.8C297.5 76.3 299 76.5 300.2 76.5" stroke="#2a8cd1"/>
<path d="M317 70C320.5 68.5 323.5 64.5 328 63.6C332 62.8 335.5 64 339.2 64.9" stroke="#2a8cd1"/>
<path d="M320 93.8C323.5 94.6 327 94.8 330.5 94.4C334 94 336.5 91.6 339.4 92.6C342.6 93.7 343.8 97 345.1 100" stroke="#2a8cd1"/>
<path d="M295.1 88C296.5 84.5 298.5 81.5 302 81C305.5 80.5 307.5 81 310 82C313 83.3 315.5 85 318.8 84.1C321.5 83.4 323.5 81.5 325.1 79.5" stroke="#c3152f"/>
<path d="M365.7 75.8C368.5 78.5 372 82.5 376.5 82.6C381.5 82.7 383.5 78 387 75.8C389.5 74.2 392 73.6 394.6 73.3" stroke="#c3152f"/>
</g>
<path d="M303.5 80.5V136" stroke="#333" stroke-width="0.9" fill="none"/>

<!-- phages -->
<use href="#phage" transform="translate(221 308.5) rotate(-128.2) scale(-1 1)"/>
<use href="#phage" transform="translate(311.8 278) rotate(-90)"/>
<use href="#phage" transform="translate(415.4 188)"/>
<path d="M415.2 227.3C414.6 229.5 414.3 231 414.5 233.2C415 238.5 420.5 240.5 421.1 245.1C421.4 247.3 420.8 248.6 419.8 250.4C418.3 253.2 415.8 255.3 414.5 258.3C413.9 259.8 413.8 261.2 413.9 262.9" stroke="#c3152f" stroke-width="2.8" fill="none" stroke-linecap="round"/>
<path d="M419.8 258.5C421.5 262.5 425 266.2 432 266.7" stroke="#2f3f55" stroke-width="2.6" fill="none" stroke-linecap="round"/>
<path d="M430.2 262.3L442.4 266.6L430 271.9L432.6 266.9Z" fill="#2f3f55"/>

<!-- plasmids / conjugation -->
<g fill="none" stroke-width="3.2">
<circle cx="250.6" cy="446.3" r="18.3" stroke="#17121a"/>
<path d="M233.6 453.2A18.3 18.3 0 0 1 233.2 440.6" stroke="#c3152f"/>
<path d="M259.2 462.5A18.3 18.3 0 0 1 245.4 463.8" stroke="#e29b12"/>
<circle cx="399.6" cy="448.7" r="20.2" stroke="#17121a"/>
<path d="M380.6 455.6A20.2 20.2 0 0 1 380.7 441.6" stroke="#c3152f"/>
<path d="M409.2 466.5A20.2 20.2 0 0 1 393.4 467.9" stroke="#e29b12"/>
</g>
<path d="M284 446.2H357" stroke="#34435a" stroke-width="2.2" fill="none"/>
<path d="M353.5 441.3L366 446.2L353.5 451.1L356 446.2Z" fill="#34435a"/>
<path d="M116.5 515.3H119.5Q121.8 515.3 121.8 513V445" stroke="#333" stroke-width="0.9" fill="none"/>

<!-- titles -->
<text x="16" y="13.4" class="tl">a</text><text x="33.5" y="13.4" class="t" textLength="161.5">Bacterial transformation</text>
<text x="16.5" y="180.7" class="tl">b</text><text x="34" y="180.7" class="t" textLength="146">Bacterial transduction</text>
<text x="17" y="380" class="tl">c</text><text x="33.3" y="380" class="t" textLength="140">Bacterial conjugation</text>

<!-- labels -->
<text x="131.7" y="147" class="l" textLength="64.5">Donor cell</text>
<text x="447" y="146.8" class="l" textLength="84.7">Recipient cell</text>
<text x="287.6" y="30.8" class="l" textLength="64">Release of</text>
<text x="305.3" y="47.7" class="l" textLength="28.7">DNA</text>
<text x="306.5" y="138.4" class="l" textLength="59.5">Antibiotic-</text>
<text x="306" y="155" class="l" textLength="95.7">resistance gene</text>
<text x="87.5" y="349" class="l" textLength="160">Phage-infected donor cell</text>
<text x="447" y="349" class="l" textLength="84.5">Recipient cell</text>
<text x="288.5" y="322.5" class="l" textLength="63">Release of</text>
<text x="301" y="339" class="l" textLength="39">phage</text>
<text x="45" y="518.5" class="l" textLength="70">Transposon</text>
<text x="141" y="518.5" class="l" textLength="65">Donor cell</text>
<text x="415.5" y="518.5" class="l" textLength="85">Recipient cell</text>
</svg>
</body></html>
